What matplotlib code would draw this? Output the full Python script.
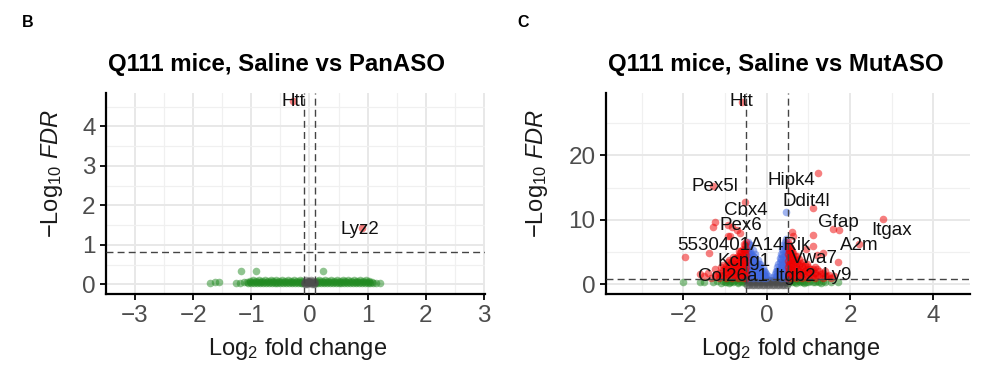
import matplotlib
matplotlib.use("Agg")
import matplotlib.pyplot as plt
from matplotlib.ticker import FixedLocator

plt.rcParams['font.family'] = ['Liberation Sans', 'DejaVu Sans']
plt.rcParams['mathtext.fontset'] = 'custom'
plt.rcParams['mathtext.rm'] = 'Liberation Sans'
plt.rcParams['mathtext.it'] = 'Liberation Sans:italic'
plt.rcParams['mathtext.bf'] = 'Liberation Sans:bold'

# ---------------- Panel B data (Saline vs PanASO) ----------------
B_ns_x = [-0.09, -0.07, -0.05, -0.03, -0.01, 0.01, 0.03, 0.05, 0.07, 0.09,
          -0.08, -0.04, 0.0, 0.04, 0.08, -0.06, -0.02, 0.02, 0.06]
B_ns_y = [0.03, 0.06, 0.02, 0.07, 0.04, 0.05, 0.02, 0.06, 0.03, 0.05,
          0.0, 0.01, 0.08, 0.0, 0.01, 0.1, 0.09, 0.1, 0.09]

B_fc_x = [-1.71, -1.62, -1.55, -1.26, -1.2, -1.12, -1.18, -0.92, 0.23,
          -1.05, -1.0, -0.95, -0.9, -0.85, -0.8, -0.75, -0.7, -0.65, -0.6,
          -0.55, -0.5, -0.45, -0.4, -0.35, -0.3, -0.25, -0.2, -0.15, -0.12,
          -1.03, -0.97, -0.92, -0.87, -0.82, -0.77, -0.72, -0.67, -0.62, -0.57,
          -0.52, -0.47, -0.42, -0.37, -0.32, -0.27, -0.22, -0.17, -0.13,
          -1.075, -1.025, -0.975, -0.925, -0.875, -0.825, -0.775, -0.725, -0.675,
          -0.625, -0.575, -0.525, -0.475, -0.425, -0.375, -0.325, -0.275, -0.225,
          -0.175, -0.135,
          0.12, 0.15, 0.2, 0.25, 0.3, 0.35, 0.4, 0.45, 0.5, 0.55,
          0.6, 0.65, 0.7, 0.75, 0.8, 0.85, 0.9, 0.95, 1.0, 1.05,
          0.13, 0.17, 0.22, 0.27, 0.32, 0.37, 0.42, 0.47, 0.52, 0.57,
          0.62, 0.67, 0.72, 0.77, 0.82, 0.87, 0.92, 0.97, 1.02,
          0.135, 0.175, 0.225, 0.275, 0.325, 0.375, 0.425, 0.475, 0.525, 0.575,
          0.625, 0.675, 0.725, 0.775, 0.825, 0.875, 0.925, 0.975, 1.025, 1.075,
          1.1, 1.15, 1.21]
B_fc_y = [0.02, 0.06, 0.05, 0.02, 0.03, 0.05, 0.33, 0.33, 0.33,
          0.02, 0.03, 0.02, 0.03, 0.02, 0.03, 0.02, 0.03, 0.02, 0.03,
          0.02, 0.03, 0.02, 0.03, 0.02, 0.03, 0.02, 0.03, 0.02, 0.03,
          0.09, 0.1, 0.09, 0.1, 0.09, 0.1, 0.09, 0.1, 0.09, 0.1,
          0.09, 0.1, 0.09, 0.1, 0.09, 0.1, 0.09, 0.1, 0.09,
          0.06, 0.05, 0.06, 0.05, 0.06, 0.05, 0.06, 0.05, 0.06,
          0.05, 0.06, 0.05, 0.06, 0.05, 0.06, 0.05, 0.06, 0.05,
          0.06, 0.05,
          0.02, 0.03, 0.02, 0.03, 0.02, 0.03, 0.02, 0.03, 0.02, 0.03,
          0.02, 0.03, 0.02, 0.03, 0.02, 0.03, 0.02, 0.03, 0.02, 0.03,
          0.09, 0.1, 0.09, 0.1, 0.09, 0.1, 0.09, 0.1, 0.09, 0.1,
          0.09, 0.1, 0.09, 0.1, 0.09, 0.1, 0.09, 0.1, 0.09,
          0.06, 0.05, 0.06, 0.05, 0.06, 0.05, 0.06, 0.05, 0.06, 0.05,
          0.06, 0.05, 0.06, 0.05, 0.06, 0.05, 0.06, 0.05, 0.06, 0.05,
          0.03, 0.02, 0.04]

B_sig_x = [-0.28, 0.9]
B_sig_y = [4.64, 1.42]

B_lab = ['Htt', 'Lyz2']
B_lab_x = [-0.28, 0.87]
B_lab_y = [4.64, 1.40]

# ---------------- Panel C data (Saline vs MutASO) ----------------
C_ns_x = [-0.48, -0.42, -0.36, -0.30, -0.24, -0.18, -0.12, -0.06, 0.0, 0.06, 0.12, 0.18, 0.24, 0.30, 0.36, 0.42, 0.48,
          -0.45, -0.39, -0.33, -0.27, -0.21, -0.15, -0.09, -0.03, 0.03, 0.09, 0.15, 0.21, 0.27, 0.33, 0.39, 0.45,
          -0.48, -0.42, -0.36, -0.30, -0.24, -0.18, -0.12, -0.06, 0.0, 0.06, 0.12, 0.18, 0.24, 0.30, 0.36, 0.42, 0.48]
C_ns_y = [-0.15, -0.15, -0.15, -0.15, -0.15, -0.15, -0.15, -0.15, -0.15, -0.15, -0.15, -0.15, -0.15, -0.15, -0.15, -0.15, -0.15,
          0.3, 0.3, 0.3, 0.3, 0.3, 0.3, 0.3, 0.3, 0.3, 0.3, 0.3, 0.3, 0.3, 0.3, 0.3, 0.3,
          0.7, 0.7, 0.7, 0.7, 0.7, 0.7, 0.7, 0.7, 0.7, 0.7, 0.7, 0.7, 0.7, 0.7, 0.7, 0.7, 0.7]

C_fc_x = [-2.0, -1.6, -1.5, -1.3, -1.2, -1.1, -1.0, -0.95, -0.9, -0.85, -0.8, -0.75, -0.7,
          -0.65, -0.6, -0.55, -0.52,
          -1.05, -0.98, -0.88, -0.78, -0.68, -0.58,
          0.52, 0.55, 0.6, 0.65, 0.7, 0.75, 0.8, 0.85, 0.9, 1.0, 1.1, 1.2, 1.3, 1.4, 1.55, 1.7,
          0.58, 0.68, 0.78, 0.88, 0.95, 1.05, 1.15, 1.25, 1.35]
C_fc_y = [0.4, 0.4, 0.3, 0.3, 0.5, 0.2, 0.4, 0.6, 0.2, 0.5, 0.3, 0.6, 0.2,
          0.5, 0.3, 0.6, 0.2,
          0.5, 0.3, 0.4, 0.45, 0.4, 0.45,
          0.2, 0.6, 0.3, 0.5, 0.2, 0.6, 0.3, 0.5, 0.2, 0.4, 0.3, 0.5, 0.2, 0.4, 0.3, 0.3,
          0.45, 0.4, 0.45, 0.4, 0.3, 0.5, 0.4, 0.35, 0.5]

C_p_x = [-0.46, -0.46, -0.46, -0.46, -0.46, -0.46, -0.46, -0.46,
         -0.43, -0.43, -0.43, -0.43, -0.43, -0.43, -0.43,
         -0.40, -0.40, -0.40, -0.40, -0.40, -0.40, -0.40,
         -0.37, -0.37, -0.37, -0.37, -0.37,
         -0.34, -0.34, -0.34, -0.34, -0.34, -0.34,
         -0.31, -0.31, -0.31, -0.31,
         -0.28, -0.28, -0.28, -0.28, -0.28,
         -0.25, -0.25, -0.25,
         -0.22, -0.22, -0.22, -0.22,
         -0.19, -0.19, -0.19,
         -0.16, -0.16, -0.16, -0.16,
         -0.13, -0.13,
         -0.10, -0.10, -0.10,
         -0.07, -0.07,
         -0.04, -0.04,
         -0.01, -0.01,
         0.02,
         0.16, 0.19, 0.22, 0.22,
         0.25, 0.25, 0.25,
         0.28, 0.28, 0.28,
         0.31, 0.31, 0.31, 0.31,
         0.34, 0.34, 0.34, 0.34, 0.34,
         0.37, 0.37, 0.37, 0.37, 0.37,
         0.40, 0.40, 0.40, 0.40, 0.40, 0.40,
         0.43, 0.43, 0.43, 0.43, 0.43, 0.43,
         0.46, 0.46, 0.46, 0.46, 0.46, 0.46, 0.46,
         0.49, 0.49, 0.49, 0.49, 0.49, 0.49,
         0.46]
C_p_y = [1.0, 1.8, 2.6, 3.4, 4.2, 5.0, 5.8, 6.6,
         1.4, 2.2, 3.0, 3.8, 4.6, 5.4, 6.3,
         1.2, 2.0, 2.8, 3.6, 4.4, 5.2, 6.1,
         1.4, 2.2, 3.0, 3.8, 4.7,
         1.0, 1.8, 2.6, 3.4, 4.3, 5.3,
         1.4, 2.4, 3.3, 4.2,
         1.2, 2.0, 2.9, 3.8, 4.6,
         1.4, 2.4, 3.3,
         1.0, 1.9, 2.8, 3.8,
         1.4, 2.3, 3.2,
         1.2, 2.0, 2.6, 3.1,
         1.4, 2.2,
         1.0, 1.8, 2.5,
         1.4, 2.1,
         1.2, 1.9,
         1.0, 1.6,
         1.2,
         1.1, 1.5, 1.2, 2.1,
         1.2, 2.0, 2.7,
         1.2, 2.2, 3.2,
         1.4, 2.4, 3.4, 4.0,
         1.0, 2.0, 3.0, 3.9, 4.6,
         1.5, 2.5, 3.5, 4.5, 5.4,
         1.2, 2.2, 3.2, 4.2, 5.2, 6.0,
         1.5, 2.5, 3.5, 4.5, 5.5, 6.5,
         1.0, 2.0, 3.0, 4.0, 5.0, 6.0, 7.0,
         1.3, 2.3, 3.3, 4.3, 5.3, 6.3,
         11.2]

C_sig_x = [-1.25, -1.25, -1.15, -1.15, -1.05, -1.05, -1.05, -0.98, -0.98, -0.98,
           -0.9, -0.9, -0.9, -0.9, -0.83, -0.83, -0.83, -0.83,
           -0.76, -0.76, -0.76, -0.76, -0.7, -0.7, -0.7, -0.7, -0.7,
           -0.64, -0.64, -0.64, -0.64, -0.64, -0.58, -0.58, -0.58, -0.58, -0.58, -0.58,
           -0.53, -0.53, -0.53, -0.53, -0.53, -0.53,
           -1.2, -1.1, -1.1, -1.0, -1.0, -0.94, -0.94, -0.94, -0.87, -0.87, -0.87,
           -0.8, -0.8, -0.8, -0.8, -0.73, -0.73, -0.73, -0.73,
           -0.67, -0.67, -0.67, -0.67, -0.67, -0.61, -0.61, -0.61, -0.61, -0.61,
           -0.555, -0.555, -0.555, -0.555, -0.555, -0.555,
           -0.51, -0.51, -0.51, -0.51, -0.51, -0.51, -0.51,
           -1.6, -1.5, -1.4, -1.35,
           0.53, 0.53, 0.53, 0.53, 0.53, 0.53, 0.58, 0.58, 0.58, 0.58, 0.58, 0.58,
           0.64, 0.64, 0.64, 0.64, 0.64, 0.7, 0.7, 0.7, 0.7, 0.77, 0.77, 0.77, 0.77,
           0.84, 0.84, 0.84, 0.92, 0.92, 0.92, 1.0, 1.0, 1.0, 1.08, 1.08,
           1.16, 1.16, 1.16, 1.25, 1.25, 1.35, 1.35, 1.45, 1.55,
           0.51, 0.51, 0.51, 0.51, 0.51, 0.51, 0.51,
           0.555, 0.555, 0.555, 0.555, 0.555, 0.555,
           0.61, 0.61, 0.61, 0.61, 0.61, 0.67, 0.67, 0.67, 0.67,
           0.735, 0.735, 0.735, 0.735, 0.8, 0.8, 0.8, 0.88, 0.88, 0.88,
           0.96, 0.96, 0.96, 1.04, 1.04, 1.12, 1.12, 1.2, 1.2, 1.3, 1.4, 1.4, 1.5, 1.62,
           -1.96, -1.38, -1.29, -0.93, -0.84, -0.64, -0.52, -1.24, -0.92, -0.72,
           -0.88, -1.3, -0.6,
           0.61, 0.64, 1.1, 1.1, 1.35, 1.72, 1.58, 1.74, 2.22, 2.8, 1.12, 1.22,
           0.95, 1.2]
C_sig_y = [1.2, 2.4, 1.0, 1.8, 1.2, 2.2, 3.0, 1.0, 1.9, 2.8,
           1.2, 2.0, 3.0, 3.8, 1.0, 1.9, 2.8, 3.6,
           1.3, 2.2, 3.1, 4.0, 1.0, 1.8, 2.7, 3.5, 4.4,
           1.2, 2.1, 3.0, 3.9, 4.8, 1.0, 1.9, 2.8, 3.7, 4.6, 5.5,
           1.3, 2.2, 3.1, 4.0, 5.0, 6.0,
           1.6, 1.4, 2.6, 1.5, 2.4, 1.5, 2.5, 3.4, 1.5, 2.4, 3.3,
           1.5, 2.4, 3.2, 4.2, 1.4, 2.3, 3.2, 4.1,
           1.5, 2.4, 3.3, 4.2, 5.1, 1.5, 2.4, 3.3, 4.2, 5.2,
           1.5, 2.4, 3.3, 4.3, 5.3, 6.3,
           1.0, 1.8, 2.7, 3.6, 4.5, 5.5, 6.5,
           1.5, 1.2, 1.8, 1.0,
           1.2, 2.2, 3.2, 4.2, 5.2, 6.0, 1.0, 1.9, 2.8, 3.7, 4.6, 5.4,
           1.3, 2.2, 3.1, 4.0, 4.9, 1.0, 1.9, 2.8, 3.7, 1.2, 2.1, 3.0, 3.9,
           1.0, 1.9, 2.8, 1.2, 2.1, 3.0, 1.0, 1.9, 2.7, 1.2, 2.0,
           1.0, 1.8, 2.6, 1.2, 2.0, 1.0, 1.8, 1.3, 1.0,
           1.0, 1.8, 2.7, 3.6, 4.6, 5.6, 6.6,
           1.5, 2.4, 3.3, 4.2, 5.0, 5.8,
           1.5, 2.4, 3.4, 4.3, 5.2, 1.5, 2.5, 3.4, 4.4,
           1.4, 2.4, 3.3, 4.3, 1.5, 2.4, 3.3, 1.5, 2.4, 3.4,
           1.4, 2.3, 3.2, 1.5, 2.4, 1.4, 2.3, 1.4, 2.3, 1.5, 1.2, 2.0, 1.4, 1.2,
           4.25, 4.8, 8.9, 7.5, 8.9, 7.9, 12.8, 9.7, 9.2, 8.4,
           7.5, 15.3, 28.3,
           8.05, 7.4, 7.6, 5.9, 4.8, 3.5, 8.5, 8.4, 6.2, 10.1, 11.8, 17.2,
           5.5, 4.5]

C_lab = ['Htt', 'Pex5l', 'Hipk4', 'Ddit4l', 'Cbx4', 'Pex6', 'Gfap', 'Itgax',
         '5530401A14Rik', 'A2m', 'Kcng1', 'Vwa7', 'Col26a1', 'Itgb2', 'Ly9']
C_lab_x = [-0.62, -1.24, 0.60, 0.96, -0.51, -0.63, 1.73, 2.99,
           -0.56, 2.23, -0.55, 1.15, -0.81, 0.68, 1.70]
C_lab_y = [28.4, 15.2, 16.1, 12.8, 11.4, 9.1, 9.55, 8.25,
           5.97, 5.97, 3.47, 4.0, 1.14, 1.14, 1.4]

# ---------------- styling ----------------
COL_NS = '#4D4D4D'
COL_FC = '#228B22'
COL_P = '#4169E1'
COL_SIG = '#EE0000'
ALPHA = 0.5
PT = 30

fig = plt.figure(figsize=(10, 3.84), dpi=100)
axB = fig.add_axes([0.106, 0.234, 0.379, 0.524])
axC = fig.add_axes([0.606, 0.234, 0.364, 0.524])


def style(ax, xlim, ylim, xmaj, xmin, ymaj, ymin):
    ax.set_xlim(*xlim)
    ax.set_ylim(*ylim)
    ax.xaxis.set_major_locator(FixedLocator(xmaj))
    ax.xaxis.set_minor_locator(FixedLocator(xmin))
    ax.yaxis.set_major_locator(FixedLocator(ymaj))
    ax.yaxis.set_minor_locator(FixedLocator(ymin))
    ax.grid(which='major', color='#E8E8E8', lw=1.4)
    ax.grid(which='minor', color='#F0F0F0', lw=0.9)
    ax.set_axisbelow(True)
    for s in ['top', 'right']:
        ax.spines[s].set_visible(False)
    for s in ['left', 'bottom']:
        ax.spines[s].set_linewidth(1.6)
        ax.spines[s].set_color('black')
    ax.tick_params(which='major', direction='out', length=4.5, width=1.3,
                   color='black', labelsize=17.5, labelcolor='#4D4D4D', pad=3)
    ax.tick_params(which='minor', length=0)
    ax.set_facecolor('white')


style(axB, (-3.5, 3.02), (-0.25, 4.85), [-3, -2, -1, 0, 1, 2, 3],
      [-3.5, -2.5, -1.5, -0.5, 0.5, 1.5, 2.5], [0, 1, 2, 3, 4],
      [0.5, 1.5, 2.5, 3.5, 4.5])
axB.set_xticklabels(['\u22123', '\u22122', '\u22121', '0', '1', '2', '3'])

style(axC, (-3.86, 4.88), (-1.56, 29.7), [-2, 0, 2, 4], [-3, -1, 1, 3],
      [0, 10, 20], [5, 15, 25])
axC.set_xticklabels(['\u22122', '0', '2', '4'])

# points
axB.scatter(B_fc_x, B_fc_y, s=PT, color=COL_FC, alpha=ALPHA, lw=0, zorder=2)
axB.scatter(B_ns_x, B_ns_y, s=PT, color=COL_NS, alpha=ALPHA, lw=0, zorder=2)
axB.scatter(B_sig_x, B_sig_y, s=PT, color=COL_SIG, alpha=ALPHA, lw=0, zorder=2)

axC.scatter(C_fc_x, C_fc_y, s=PT, color=COL_FC, alpha=ALPHA, lw=0, zorder=2)
axC.scatter(C_ns_x, C_ns_y, s=PT, color=COL_NS, alpha=ALPHA, lw=0, zorder=2)
axC.scatter(C_p_x, C_p_y, s=PT, color=COL_P, alpha=ALPHA, lw=0, zorder=2)
axC.scatter(C_sig_x, C_sig_y, s=PT, color=COL_SIG, alpha=ALPHA, lw=0, zorder=2)

# cutoff lines
for ax, fc in [(axB, 0.1), (axC, 0.5)]:
    ax.axvline(-fc, color='#444444', lw=1.0, dashes=(5, 3), zorder=3)
    ax.axvline(fc, color='#444444', lw=1.0, dashes=(5, 3), zorder=3)
    ax.axhline(0.82, color='#444444', lw=1.0, dashes=(5, 3), zorder=3)

for lab, x, y in zip(B_lab, B_lab_x, B_lab_y):
    axB.text(x, y, lab, fontsize=13.5, ha='center', va='center', color='#111111', zorder=4)
for lab, x, y in zip(C_lab, C_lab_x, C_lab_y):
    axC.text(x, y, lab, fontsize=13.5, ha='center', va='center', color='#111111', zorder=4)

# titles and axis labels
fig.text(0.276, 0.816, 'Q111 mice, Saline vs PanASO', fontsize=17.3, fontweight='bold',
         ha='center', va='baseline')
fig.text(0.7755, 0.816, 'Q111 mice, Saline vs MutASO', fontsize=17.3, fontweight='bold',
         ha='center', va='baseline')
fig.text(0.0217, 0.929, 'B', fontsize=11.5, fontweight='bold', ha='left', va='baseline')
fig.text(0.517, 0.929, 'C', fontsize=11.5, fontweight='bold', ha='left', va='baseline')

ylab = r'$-\mathrm{Log}_{10}\ \mathit{FDR}$'
xlab = r'$\mathrm{Log}_{2}$ fold change'
fig.text(0.052, 0.547, ylab, fontsize=17, rotation=90, ha='center', va='center', color='#1a1a1a')
fig.text(0.537, 0.547, ylab, fontsize=17, rotation=90, ha='center', va='center', color='#1a1a1a')
fig.text(0.2975, 0.0755, xlab, fontsize=17, ha='center', va='baseline', color='#1a1a1a')
fig.text(0.791, 0.0755, xlab, fontsize=17, ha='center', va='baseline', color='#1a1a1a')

fig.savefig('out.png', dpi=100)
